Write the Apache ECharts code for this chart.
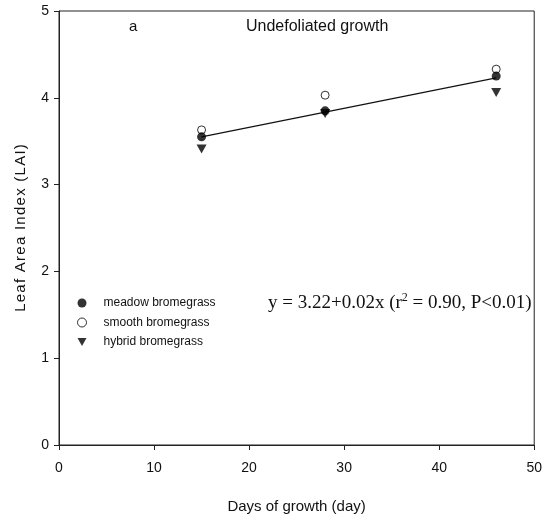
<!DOCTYPE html>
<html>
<head>
<meta charset="utf-8">
<script src="https://cdn.jsdelivr.net/npm/echarts@6/dist/echarts.min.js"></script>
<style>
  html, body { margin: 0; padding: 0; background: #fff; }
  #chart { width: 545px; height: 521px; }
</style>
</head>
<body>
<div id="chart"></div>
<script>
const days = [15, 28, 46]
const meadow = [3.55, 3.85, 4.25]
const smooth = [3.63, 4.03, 4.33]
const hybrid = [3.41, 3.82, 4.06]
const fitDays = [15, 46]
const fitValues = [3.55, 4.23]
const xTicks = [0, 10, 20, 30, 40, 50]
const yTicks = [0, 1, 2, 3, 4, 5]

const pairs = (xs, ys) => xs.map((x, i) => [x, ys[i]])
const sans = 'Liberation Sans, Arial, sans-serif'
const serif = 'Liberation Serif, Times New Roman, serif'
const downTriangle = 'path://M0,0 L10,0 L5,9 Z'

const chart = echarts.init(document.getElementById('chart'))
const option = {
  animation: false,
  grid: { left: 59, right: 8, top: 11, bottom: 76, show: true, borderColor: '#222', borderWidth: 1 },
  xAxis: {
    type: 'value',
    min: xTicks[0],
    max: xTicks[xTicks.length - 1],
    interval: 10,
    name: 'Days of growth (day)',
    nameLocation: 'middle',
    nameGap: 54,
    nameTextStyle: { fontFamily: sans, fontSize: 15, color: '#111' },
    axisLine: { lineStyle: { color: '#222' } },
    axisTick: { length: 5, lineStyle: { color: '#222' } },
    axisLabel: { fontFamily: sans, fontSize: 14, color: '#111', margin: 16 },
    splitLine: { show: false }
  },
  yAxis: {
    type: 'value',
    min: yTicks[0],
    max: yTicks[yTicks.length - 1],
    interval: 1,
    name: 'Leaf Area Index (LAI)'.split('').join('\u200a'),
    nameLocation: 'middle',
    nameGap: 31,
    nameTextStyle: { fontFamily: sans, fontSize: 15, color: '#111' },
    axisLine: { lineStyle: { color: '#222' } },
    axisTick: { length: 5, lineStyle: { color: '#222' } },
    axisLabel: { fontFamily: sans, fontSize: 14, color: '#111', margin: 10 },
    splitLine: { show: false }
  },
  legend: {
    orient: 'vertical',
    left: 72,
    top: 292,
    itemGap: 7.5,
    itemWidth: 9,
    itemHeight: 9,
    textStyle: { fontFamily: sans, fontSize: 12, color: '#111', padding: [0, 0, 0, 12] },
    data: [
      { name: 'meadow bromegrass', icon: 'circle' },
      { name: 'smooth bromegrass', icon: 'circle', itemStyle: { borderWidth: 1 } },
      { name: 'hybrid bromegrass', icon: downTriangle }
    ]
  },
  graphic: [
    { type: 'text', left: 129, top: 19, style: { text: 'a', font: '15px ' + sans, fill: '#111' } },
    { type: 'text', left: 246, top: 19, style: { text: 'Undefoliated growth', font: '16px ' + sans, fill: '#111' } },
    {
      type: 'text', left: 268, top: 292,
      style: {
        text: '{t|y = 3.22+0.02x (r}{s|2}{t| = 0.90, P<0.01)}',
        rich: {
          t: { font: '19px ' + serif, fill: '#111', lineHeight: 22 },
          s: { font: '12px ' + serif, fill: '#111', lineHeight: 22, verticalAlign: 'top', padding: [0, 0, 8, 0] }
        }
      }
    }
  ],
  series: [
    {
      name: 'fit',
      type: 'line',
      data: pairs(fitDays, fitValues),
      symbol: 'none',
      lineStyle: { color: '#111', width: 1.2 },
      z: 1
    },
    {
      name: 'hybrid bromegrass',
      type: 'scatter',
      data: pairs(days, hybrid),
      symbol: downTriangle,
      symbolSize: [10, 9],
      itemStyle: { color: '#000' },
      z: 2
    },
    {
      name: 'smooth bromegrass',
      type: 'scatter',
      data: pairs(days, smooth),
      symbol: 'circle',
      symbolSize: 8,
      itemStyle: { color: '#fff', borderColor: '#000', borderWidth: 1 },
      z: 3
    },
    {
      name: 'meadow bromegrass',
      type: 'scatter',
      data: pairs(days, meadow),
      symbol: 'circle',
      symbolSize: 9,
      itemStyle: { color: '#000' },
      z: 4
    }
  ]
}
chart.setOption(option)
</script>
</body>
</html>
